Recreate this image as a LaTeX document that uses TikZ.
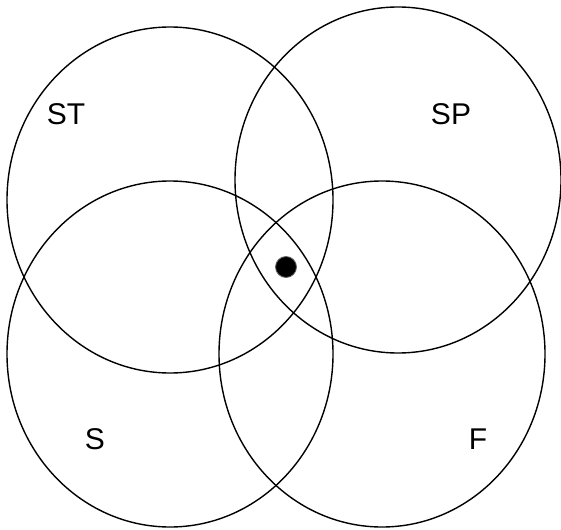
\documentclass[tikz,border=0pt]{standalone}
\usepackage{fontspec}
\setmainfont{Liberation Sans}
\usetikzlibrary{shapes.geometric}

\begin{document}
\begin{tikzpicture}[
  x=1pt, y=-1pt,
  region/.style={
    ellipse, draw=black, line width=1.4pt,
    minimum width=326pt, minimum height=346pt, inner sep=0pt
  },
  tag/.style={
    font=\fontsize{30}{32}\selectfont, text=black, inner sep=0pt
  },
  marker/.style={
    circle, fill=black, draw=black!60, line width=0.8pt,
    minimum size=21pt, inner sep=0pt
  },
]

% === Canvas ===
\useasboundingbox (0,0) rectangle (561,529);

% === Four overlapping regions ===
\node[region] (st) at (170,200) {};
\node[region] (sp) at (398,180) {};
\node[region] (s)  at (170,354) {};
\node[region] (f)  at (382,354) {};

% === Region labels ===
\node[tag] (stlab) at (66,114)  {ST};
\node[tag] (splab) at (451,114) {SP};
\node[tag] (slab)  at (95,439)  {S};
\node[tag] (flab)  at (478,439) {F};

% === Common point ===
\node[marker] (pt) at (286,267) {};

\end{tikzpicture}
\end{document}
